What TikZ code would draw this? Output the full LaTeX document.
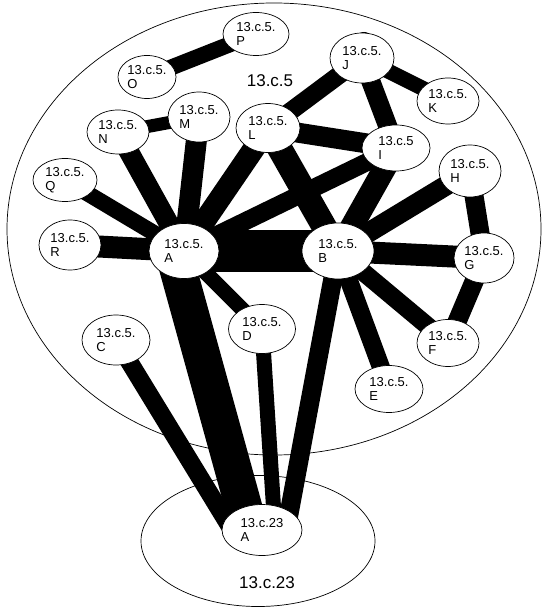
\documentclass[tikz,border=0pt]{standalone}
\usepackage{fontspec}
\setmainfont{Liberation Sans}
\usetikzlibrary{shapes.geometric}
\pgfdeclarelayer{back}
\pgfdeclarelayer{edges}
\pgfsetlayers{back,edges,main}
\begin{document}
\begin{tikzpicture}[x=1pt,y=-1pt,
  nd/.style={ellipse, draw, fill=white, line width=0.7pt, inner sep=0pt, align=left,
    font=\fontsize{13}{14.5}\selectfont},
  region/.style={ellipse, draw, line width=0.7pt, inner sep=0pt},
  ed/.style={line width=#1, draw=black},
  biglab/.style={font=\fontsize{17}{18}\selectfont}
]
\useasboundingbox (0,0) rectangle (544,609);
\begin{pgfonlayer}{back}
\fill[white] (0,0) rectangle (544,609);
\node[region, minimum width=534pt, minimum height=452pt] (r5) at (274,229) {};
\node[region, minimum width=234pt, minimum height=131pt] (r23) at (258,541) {};
\end{pgfonlayer}
\node[biglab] (l5) at (270,81) {13.c.5};
\node[biglab] (l23) at (267,583) {13.c.23};

\node[nd, minimum width=66pt, minimum height=43pt] (P) at (256,34) {13.c.5.\\P};
\node[nd, minimum width=58pt, minimum height=43pt] (O) at (147,77) {13.c.5.\\O};
\node[nd, minimum width=62pt, minimum height=44pt] (N) at (118,132) {13.c.5.\\N};
\node[nd, minimum width=62pt, minimum height=50pt] (M) at (199,117) {13.c.5.\\M};
\node[nd, minimum width=64pt, minimum height=49pt] (L) at (268,128) {13.c.5.\\L};
\node[nd, minimum width=64pt, minimum height=43pt] (Q) at (65,180) {13.c.5.\\Q};
\node[nd, minimum width=64pt, minimum height=50pt] (J) at (362,58) {13.c.5.\\J};
\node[nd, minimum width=62pt, minimum height=46pt] (K) at (448,101) {13.c.5.\\K};
\node[nd, minimum width=68pt, minimum height=46pt] (I) at (396,148) {13.c.5\\I};
\node[nd, minimum width=62pt, minimum height=52pt] (H) at (470,171) {13.c.5.\\H};
\node[nd, minimum width=62pt, minimum height=50pt] (R) at (70,245) {13.c.5.\\R};
\node[nd, minimum width=70pt, minimum height=55pt] (A) at (184,251) {13.c.5.\\A};
\node[nd, minimum width=68pt, minimum height=50pt] (C) at (116,340) {13.c.5.\\C};
\node[nd, minimum width=67pt, minimum height=49pt] (D) at (262,329) {13.c.5.\\D};
\node[nd, minimum width=72pt, minimum height=56pt] (B) at (338,251) {13.c.5.\\B};
\node[nd, minimum width=60pt, minimum height=50pt] (G) at (484,258) {13.c.5.\\G};
\node[nd, minimum width=62pt, minimum height=47pt] (F) at (448,343) {13.c.5.\\F};
\node[nd, minimum width=68pt, minimum height=47pt] (E) at (389,389) {13.c.5.\\E};
\node[nd, minimum width=80pt, minimum height=51pt] (T) at (262,530) {13.c.23\\A};

\coordinate (sA) at (173,251);
\coordinate (tC) at (232,530);
\coordinate (tA) at (250,530);
\coordinate (tD) at (275,530);
\coordinate (tB) at (286,530);
\coordinate (jk) at (364,37);

\begin{pgfonlayer}{edges}
\fill (jk) ellipse [x radius=7pt, y radius=5pt];
\draw[ed=16pt] (O.center) -- (P.center);
\draw[ed=13pt] (N.center) -- (M.center);
\draw[ed=20pt] (N.center) -- (A.center);
\draw[ed=21pt] (M.center) -- (A.center);
\draw[ed=22pt] (L.center) -- (A.center);
\draw[ed=18pt] (L.center) -- (J.center);
\draw[ed=20pt] (L.center) -- (I.center);
\draw[ed=25pt] (L.center) -- (B.center);
\draw[ed=15pt] (J.center) -- (K.center);
\draw[ed=19pt] (J.center) -- (I.center);
\draw[ed=18pt] (I.center) -- (A.center);
\draw[ed=23pt] (I.center) -- (B.center);
\draw[ed=16pt] (Q.center) -- (A.center);
\draw[ed=22pt] (R.center) -- (A.center);
\draw[ed=42pt] (A.center) -- (B.center);
\draw[ed=15pt] (A.center) -- (D.center);
\draw[ed=37pt] (sA) -- (tA);
\draw[ed=18pt] (C.center) -- (tC);
\draw[ed=15pt] (D.center) -- (tD);
\draw[ed=19pt] (B.center) -- (tB);
\draw[ed=20pt] (B.center) -- (H.center);
\draw[ed=22pt] (B.center) -- (G.center);
\draw[ed=18pt] (B.center) -- (F.center);
\draw[ed=18pt] (B.center) -- (E.center);
\draw[ed=19pt] (H.center) -- (G.center);
\draw[ed=19pt] (G.center) -- (F.center);
\end{pgfonlayer}
\end{tikzpicture}
\end{document}
